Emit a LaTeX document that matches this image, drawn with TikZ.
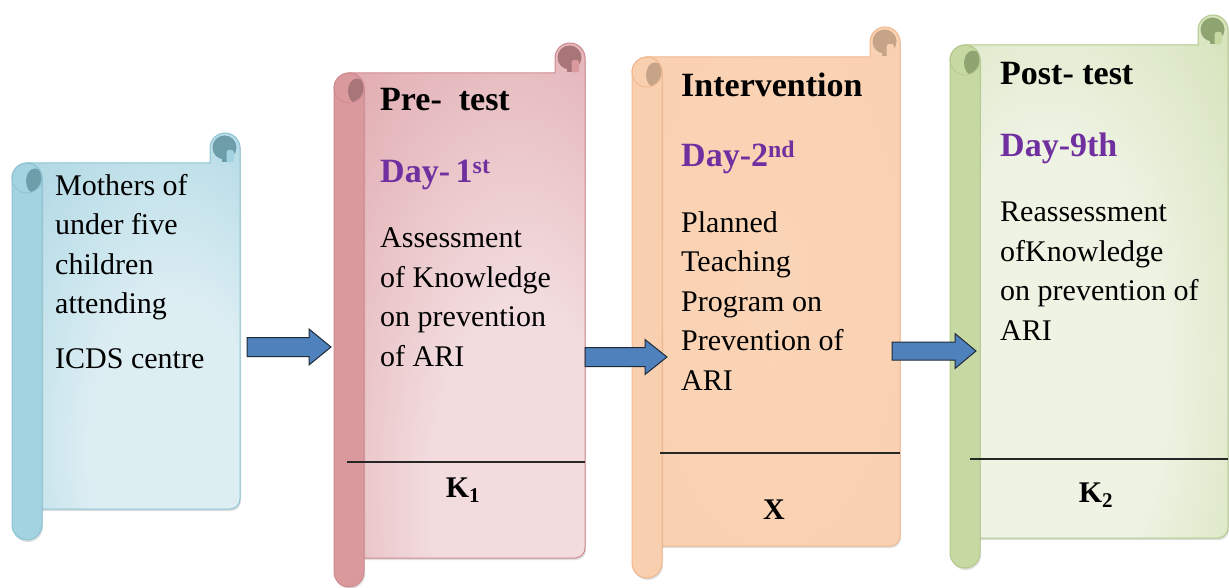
\documentclass[tikz,border=0pt]{standalone}
\usepackage{fontspec}
\setmainfont{Liberation Serif}
\usetikzlibrary{shadows,calc}
\definecolor{blueL}{HTML}{DDEEF3}
\definecolor{blueD}{HTML}{94CBDB}
\definecolor{blueR}{HTML}{A3D3E0}
\definecolor{blueE}{HTML}{8DC3D3}
\definecolor{blueK}{HTML}{6E9DAA}
\definecolor{redL}{HTML}{F2DCDE}
\definecolor{redD}{HTML}{D8939A}
\definecolor{redR}{HTML}{DA999D}
\definecolor{redE}{HTML}{D08A90}
\definecolor{redK}{HTML}{A87679}
\definecolor{orL}{HTML}{FAD4B6}
\definecolor{orD}{HTML}{F9D0B0}
\definecolor{orR}{HTML}{F9D0AF}
\definecolor{orE}{HTML}{F3B78E}
\definecolor{orK}{HTML}{C5A488}
\definecolor{grL}{HTML}{EEF3E3}
\definecolor{grD}{HTML}{C3D69C}
\definecolor{grR}{HTML}{C6D9A2}
\definecolor{grE}{HTML}{B3C98C}
\definecolor{grK}{HTML}{8FA470}
\definecolor{dayc}{HTML}{7030A0}
\definecolor{arrF}{HTML}{4F81BD}
\definecolor{arrE}{HTML}{1F2A38}
\pgfdeclareradialshading{blueshade}{\pgfpoint{12bp}{-22bp}}{color(0bp)=(blueL);color(20bp)=(blueL);color(60bp)=(blueD);color(100bp)=(blueD)}
\pgfdeclareradialshading{redshade}{\pgfpoint{15bp}{-25bp}}{color(0bp)=(redL);color(20bp)=(redL);color(62bp)=(redD);color(100bp)=(redD)}
\pgfdeclareradialshading{orshade}{\pgfpoint{0bp}{0bp}}{color(0bp)=(orL);color(60bp)=(orD);color(100bp)=(orD)}
\pgfdeclareradialshading{grshade}{\pgfpoint{-12bp}{-12bp}}{color(0bp)=(grL);color(22bp)=(grL);color(62bp)=(grD);color(100bp)=(grD)}
% #1 L, #2 T (curl top), #3 R, #4 body bottom, #5 roll bottom, #6 shading, #7 roll colour, #8 edge colour, #9 curl colour
\newcommand\drawscroll[9]{%
  \path[draw=#8, line width=1pt, shading=#6, drop shadow={opacity=0.25, shadow xshift=1pt, shadow yshift=-2pt}]
    (#1+15,#2+30) -- (#3-30,#2+30) -- (#3-30,#2+15)
    arc[start angle=180, end angle=360, radius=15]
    -- (#3,#4-10) arc[start angle=0, end angle=90, radius=10]
    -- (#1+15,#4) -- cycle;
  % top-right curl
  \fill[#9] (#3-15.5,#2+14.5) circle[radius=12];
  \fill[#9] (#3-18.5,#2+18) rectangle (#3-13.5,#2+29);
  \fill[#7, rounded corners=2.5pt] (#3-13.5,#2+17) rectangle (#3-6,#2+29.5);
  % left roll
  \path[draw=#8, line width=1pt, fill=#7, drop shadow={opacity=0.25, shadow xshift=1pt, shadow yshift=-2pt}]
    (#1,#2+45) -- (#1,#5-15) arc[start angle=180, end angle=0, radius=15]
    -- (#1+30,#2+45) arc[start angle=0, end angle=-180, radius=15] -- cycle;
  \begin{scope}
    \clip (#1+15,#2+45) circle[radius=14.5];
    \fill[#9] (#1+23,#2+48) ellipse[x radius=9, y radius=12.5];
  \end{scope}
  \draw[#8, line width=0.8pt] (#1+15,#2+45) circle[radius=15];
}
% block arrow: #1 name, #2 x start, #3 x tip, #4 y, #5 shaft half, #6 head half, #7 head length
\newcommand\blockarrow[7]{%
  \coordinate (#1s) at (#2,#4);
  \coordinate (#1t) at (#3,#4);
  \draw[arrstyle] ($(#1s)+(0,-#5)$) -- ($(#1t)+(-#7,-#5)$) -- ($(#1t)+(-#7,-#6)$) -- (#1t)
    -- ($(#1t)+(-#7,#6)$) -- ($(#1t)+(-#7,#5)$) -- ($(#1s)+(0,#5)$) -- cycle;
}
\tikzset{
  bodytxt/.style={anchor=base west, align=left, inner sep=0pt, font=\fontsize{30}{39.5}\selectfont},
  titletxt/.style={anchor=base west, inner sep=0pt, font=\fontsize{34}{40}\selectfont\bfseries},
  daytxt/.style={titletxt, text=dayc},
  ktxt/.style={inner sep=0pt, font=\fontsize{30}{36}\selectfont\bfseries},
  sepline/.style={draw=black!85, line width=1.2pt},
  arrstyle/.style={fill=arrF, draw=arrE, line width=1pt, line join=miter}
}
\begin{document}
\begin{tikzpicture}[x=1pt, y=-1pt]
\useasboundingbox (0,0) rectangle (1229,588);
% scrolls
\drawscroll{12}{133}{240}{509}{540}{blueshade}{blueR}{blueE}{blueK}
\drawscroll{334}{43}{585}{558}{587}{redshade}{redR}{redE}{redK}
\drawscroll{632}{27}{900}{546}{578}{orshade}{orR}{orE}{orK}
\drawscroll{950}{15}{1228}{538}{568}{grshade}{grR}{grE}{grK}
% separator lines
\coordinate (l2a) at (347,462); \coordinate (l2b) at (585,462);
\coordinate (l3a) at (660,453); \coordinate (l3b) at (900,453);
\coordinate (l4a) at (970,459); \coordinate (l4b) at (1228,459);
\draw[sepline] (l2a) -- (l2b);
\draw[sepline] (l3a) -- (l3b);
\draw[sepline] (l4a) -- (l4b);
% texts (multi-line nodes anchored at the baseline of their last line)
\node[bodytxt] (t1) at (55,368) {Mothers of\\under five\\children\\attending\\[15pt]ICDS centre};
\node[titletxt] (h2) at (380,111) {Pre-\ \ test};
\node[daytxt] (d2) at (380,183) {Day-\,1\textsuperscript{st}};
\node[bodytxt] (t2) at (380,366) {Assessment\\of Knowledge\\on prevention\\of ARI};
\node[ktxt] (k2) at (463,490) {K\textsubscript{1}};
\node[titletxt] (h3) at (681,97) {Intervention};
\node[daytxt] (d3) at (681,167) {Day-2\textsuperscript{nd}};
\node[bodytxt] (t3) at (681,390) {Planned\\Teaching\\Program on\\Prevention of\\ARI};
\node[ktxt] (k3) at (774,510) {X};
\node[titletxt] (h4) at (1000,85) {Post-\ test};
\node[daytxt] (d4) at (1000,157) {Day-9th};
\node[bodytxt] (t4) at (1000,340) {Reassessment\\ofKnowledge\\on prevention of\\ARI};
\node[ktxt] (k4) at (1096,495) {K\textsubscript{2}};
% arrows
\blockarrow{a1}{247}{331}{347}{9.5}{18}{22}
\blockarrow{a2}{585}{667}{357}{9.5}{17.5}{22}
\blockarrow{a3}{892}{976}{351}{9}{17.5}{21}
\end{tikzpicture}
\end{document}
